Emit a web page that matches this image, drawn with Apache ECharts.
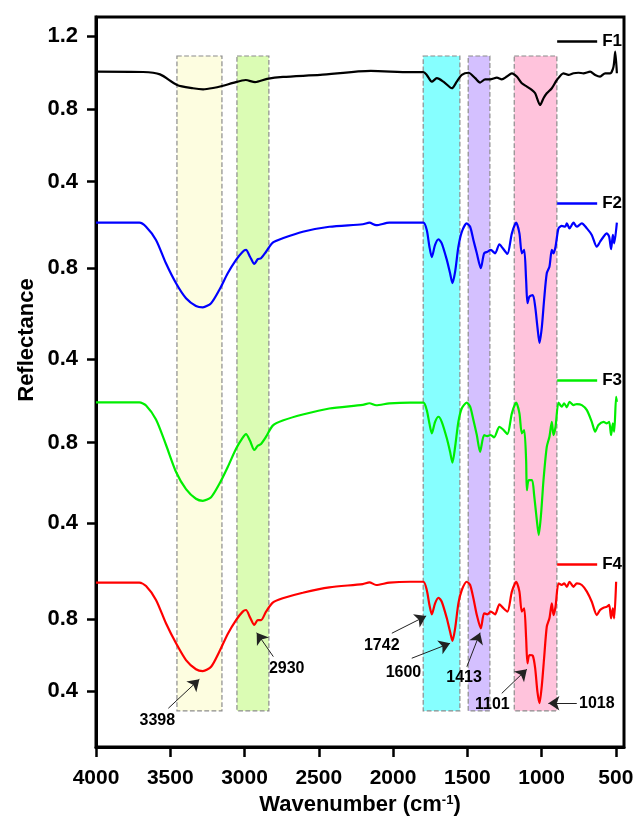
<!DOCTYPE html>
<html>
<head>
<meta charset="utf-8">
<script src="https://cdn.jsdelivr.net/npm/echarts@6/dist/echarts.min.js"></script>
<style>
  html, body { margin: 0; padding: 0; background: #fff; }
  #c1 { width: 636px; height: 820px; }
</style>
</head>
<body>
<div id="c1"></div>
<script>
// spectra (wavenumber in cm-1, reflectance)
var f1Wave = [4000,3683,3569,3454,3347,3279,3212,3151,3077,2992,2929,2848,2741,2491,2150,1885,1796,1773,1739,1705,1661,1604,1571,1537,1492,1447,1414,1380,1346,1301,1268,1234,1200,1167,1133,1099,1066,1043,1010,987,965,931,897,853,819,785,752,718,673,639,606,572,538,516,504,493];
var f1Refl = [1.004,1.002,0.989,0.931,0.913,0.907,0.914,0.925,0.942,0.958,0.946,0.964,0.975,0.986,1.008,1.001,1.001,0.986,0.949,0.968,0.949,0.913,0.949,0.986,0.998,0.968,0.944,0.962,0.962,0.971,0.962,0.977,0.995,0.977,0.940,0.922,0.904,0.885,0.821,0.858,0.885,0.913,0.958,0.995,0.986,0.995,0.998,0.995,1.004,0.986,0.977,0.995,0.995,1.030,1.114,0.995];

var leftWave = [4000,3708,3663,3596,3529,3461,3394,3327,3281,3225,3170,3113,3057,3012,2990,2963,2934,2911,2889,2855,2810,2743,2608,2429,2204,2159,2114,2025];

var f2Wave = leftWave.concat([1885,1796,1773,1755,1739,1717,1694,1672,1638,1616,1600,1582,1560,1537,1504,1481,1459,1436,1409,1387,1365,1342,1313,1284,1261,1230,1200,1171,1149,1133,1117,1104,1095,1082,1059,1043,1028,1014,998,983,965,947,931,920,906,886,864,841,830,812,785,763,729,695,662,628,606,583,561,545,532,520,511,493]);
var f2Refl = [1.001,1.001,0.983,0.925,0.822,0.734,0.668,0.634,0.628,0.646,0.704,0.778,0.837,0.873,0.881,0.851,0.819,0.840,0.844,0.873,0.913,0.932,0.961,0.983,0.994,1.001,0.990,1.001,
  1.001,1.001,0.969,0.895,0.849,0.903,0.928,0.910,0.837,0.778,0.734,0.785,0.895,0.961,0.998,0.983,0.925,0.866,0.800,0.866,0.873,0.881,0.866,0.906,0.888,0.863,0.954,1.001,0.954,0.866,0.881,0.748,0.646,0.675,0.682,0.631,0.542,0.471,0.542,0.660,0.778,0.807,0.881,0.866,0.895,0.976,0.987,0.983,0.998,0.976,1.001,0.983,0.998,0.976,0.947,0.895,0.917,0.939,0.954,0.939,0.884,0.947,0.910,1.001];

var f3Wave = leftWave.concat([1885,1796,1773,1755,1739,1717,1694,1672,1638,1616,1600,1582,1560,1537,1504,1481,1459,1436,1414,1387,1365,1342,1320,1284,1261,1230,1200,1171,1149,1133,1117,1104,1099,1086,1064,1050,1032,1019,1003,987,965,947,931,920,906,886,864,848,830,812,785,763,729,695,662,639,617,583,561,545,532,520,511,498,493]);
var f3Refl = [1.000,1.000,0.985,0.915,0.790,0.655,0.570,0.522,0.512,0.530,0.595,0.680,0.770,0.825,0.843,0.810,0.764,0.785,0.794,0.830,0.885,0.910,0.940,0.970,0.988,0.996,0.986,0.995,
  0.999,0.999,0.962,0.895,0.847,0.904,0.929,0.904,0.822,0.755,0.701,0.780,0.904,0.971,0.999,0.979,0.913,0.838,0.755,0.838,0.833,0.838,0.827,0.879,0.867,0.843,0.946,0.999,0.946,0.847,0.863,0.714,0.565,0.615,0.615,0.540,0.416,0.342,0.450,0.615,0.780,0.830,0.904,0.838,0.879,0.999,0.979,0.996,0.976,1.003,0.987,0.992,0.987,0.962,0.904,0.855,0.888,0.904,0.896,0.904,0.838,0.896,0.855,1.028,1.003];

var f4Wave = leftWave.concat([1885,1796,1773,1755,1739,1717,1694,1672,1638,1616,1600,1582,1560,1537,1504,1481,1459,1436,1409,1387,1365,1342,1313,1284,1261,1230,1200,1171,1149,1133,1117,1104,1095,1082,1059,1043,1028,1014,998,983,965,947,931,920,906,886,864,848,830,812,785,763,729,695,662,628,606,583,561,545,532,520,511,498]);
var f4Refl = [1.002,1.002,0.983,0.906,0.776,0.665,0.572,0.521,0.511,0.535,0.618,0.717,0.794,0.841,0.850,0.809,0.767,0.794,0.794,0.841,0.891,0.915,0.946,0.976,0.994,1.004,0.989,1.002,
  1.007,1.007,0.961,0.878,0.826,0.887,0.918,0.896,0.804,0.729,0.678,0.748,0.887,0.961,1.007,0.989,0.915,0.822,0.748,0.832,0.826,0.841,0.826,0.882,0.863,0.841,0.952,1.007,0.952,0.841,0.859,0.693,0.554,0.600,0.596,0.526,0.396,0.332,0.433,0.582,0.757,0.804,0.887,0.822,0.868,0.998,0.989,0.998,0.979,1.007,0.979,0.998,0.989,0.952,0.896,0.822,0.850,0.863,0.868,0.878,0.804,0.859,0.804,1.007];

var seriesNames = ['F1','F2','F3','F4'];
var seriesColors = ['#000000','#0000ff','#00ee00','#ff0000'];

// highlighted bands (cm-1)
var bandFrom = [3455,3051,1797,1494,1184];
var bandTo = [3152,2836,1550,1348,897];
var bandColors = ['#fdfde0','#dbfcb4','#86ffff','#d4c0ff','#ffc3dc'];

// peak labels on F4
var peakNames = ['3398','2930','1742','1600','1413','1101','1018'];
var peakLabelAt = [[3587,0.233],[2716,0.526],[2076,0.650],[1930,0.504],[1522,0.476],[1331,0.326],[628,0.332]];
var arrowFrom = [[3513,0.304],[2806,0.591],[2008,0.721],[1874,0.582],[1503,0.535],[1268,0.387],[763,0.332]];
var arrowTo = [[3304,0.465],[2918,0.724],[1777,0.817],[1616,0.665],[1414,0.724],[1099,0.521],[954,0.332]];

function zip(w, r) {
  var out = [];
  for (var i = 0; i < w.length; i++) out.push([w[i], r[i]]);
  return out;
}

var chart = echarts.init(document.getElementById('c1'));
var FONT = 'Arial, "Liberation Sans", sans-serif';

// each trace has its own y scale stacked in one plot
var yRanges = [[-2.704, 1.304], [-1.311, 1.908], [-0.710, 2.913], [0.089, 4.144]];
var yTicks = [[1.2, 0.8, 0.4], [0.8, 0.4], [0.8, 0.4], [0.8, 0.4]];

var yAxes = yRanges.map(function (r, i) {
  return {
    type: 'value', position: 'left', min: r[0], max: r[1],
    axisLine: { show: i === 0, onZero: false, lineStyle: { color: '#000', width: 3 } },
    axisTick: { show: true, customValues: yTicks[i], length: 9, lineStyle: { color: '#000', width: 2.5 } },
    axisLabel: { show: true, customValues: yTicks[i], margin: 18, color: '#000',
      fontFamily: FONT, fontWeight: 'bold', fontSize: 22,
      formatter: function (v) { return v.toFixed(1); } },
    splitLine: { show: false }
  };
});

var xTicks = [4000,3500,3000,2500,2000,1500,1000,500];

var bandData = bandFrom.map(function (b, i) {
  return [
    { xAxis: b, yAxis: 1.09, itemStyle: { color: bandColors[i], borderColor: '#8c8c8c', borderType: 'dashed', borderWidth: 1.2 } },
    { xAxis: bandTo[i], yAxis: -2.506 }
  ];
});

var traces = [zip(f1Wave, f1Refl), zip(f2Wave, f2Refl), zip(f3Wave, f3Refl), zip(f4Wave, f4Refl)];

var series = [{
  name: 'bands', type: 'line', data: [], yAxisIndex: 0, z: 1, silent: true,
  markArea: { silent: true, data: bandData }
}];

traces.forEach(function (d, i) {
  var s = {
    name: seriesNames[i], type: 'line', data: d, yAxisIndex: i,
    symbol: 'none', smooth: 0.25, z: 3,
    lineStyle: { color: seriesColors[i], width: 2.2 },
    itemStyle: { color: seriesColors[i] }
  };
  if (i === 3) {
    s.markLine = {
      silent: true, symbol: ['none', 'arrow'], symbolSize: 11,
      lineStyle: { color: '#222', width: 1, type: 'solid' },
      itemStyle: { color: '#000' },
      label: { show: false },
      data: arrowFrom.map(function (a, k) { return [{ coord: a }, { coord: arrowTo[k] }]; })
    };
    s.markPoint = {
      silent: true, symbol: 'rect', symbolSize: 1,
      itemStyle: { color: 'rgba(0,0,0,0)' },
      label: { show: true, position: 'inside', color: '#000', fontFamily: FONT, fontWeight: 'bold', fontSize: 16,
        formatter: function (p) { return p.name; } },
      data: peakNames.map(function (n, k) { return { name: n, coord: peakLabelAt[k] }; })
    };
  }
  series.push(s);
});

var legendTops = [33, 195, 372, 556];
var legends = seriesNames.map(function (n, i) {
  return {
    data: [{ name: n, icon: 'rect' }], right: 14, top: legendTops[i], padding: 0,
    itemWidth: 40, itemHeight: 2.5, selectedMode: false,
    textStyle: { color: '#000', fontFamily: FONT, fontWeight: 'bold', fontSize: 17 }
  };
});

var option = {
  animation: false,
  backgroundColor: '#fff',
  grid: { left: 96, right: 12, top: 17, bottom: 73, show: true, borderColor: '#000', borderWidth: 3,
    containLabel: false, outerBoundsMode: 'none' },
  legend: legends,
  xAxis: {
    type: 'value', inverse: true, min: 445, max: 4000,
    name: 'Wavenumber (cm{sup|-1})', nameLocation: 'middle', nameGap: 46,
    nameTextStyle: { color: '#000', fontFamily: FONT, fontWeight: 'bold', fontSize: 22,
      rich: { sup: { fontFamily: FONT, fontWeight: 'bold', fontSize: 13, verticalAlign: 'top', padding: [0, 0, 10, 0] } } },
    axisLine: { onZero: false, lineStyle: { color: '#000', width: 3 } },
    axisTick: { customValues: xTicks, length: 10, lineStyle: { color: '#000', width: 2.5 } },
    axisLabel: { customValues: xTicks, margin: 21, color: '#000', fontFamily: FONT, fontWeight: 'bold', fontSize: 21,
      formatter: function (v) { return String(v); } },
    splitLine: { show: false }
  },
  yAxis: yAxes,
  graphic: [{
    type: 'text', x: 27, y: 340, rotation: Math.PI / 2,
    style: { text: 'Reflectance', fill: '#000', font: 'bold 22px ' + FONT, align: 'center', verticalAlign: 'middle' }
  }],
  series: series
};

chart.setOption(option);
</script>
</body>
</html>
